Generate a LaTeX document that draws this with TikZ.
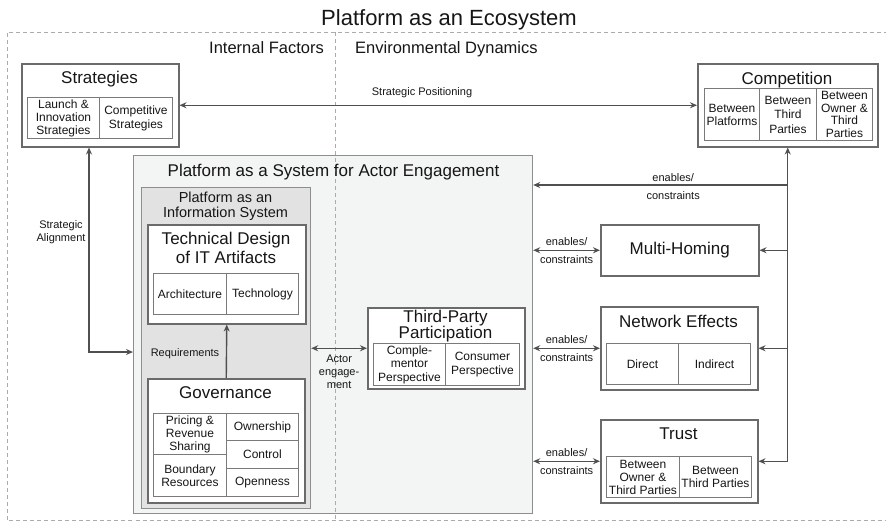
\documentclass[tikz,border=0pt]{standalone}
\usepackage{fontspec}
\setmainfont{Liberation Sans}
\usetikzlibrary{arrows.meta}
\definecolor{boxline}{HTML}{6A6A6A}
\definecolor{cellline}{HTML}{7A7A7A}
\definecolor{arrowc}{HTML}{505050}
\definecolor{framec}{HTML}{ABABAB}
\definecolor{sysfill}{HTML}{F3F4F4}
\definecolor{sysline}{HTML}{8E8E8E}
\definecolor{isfill}{HTML}{E2E2E2}
\definecolor{txt}{HTML}{161616}
\begin{document}
\begin{tikzpicture}[x=1pt,y=-1pt,
  every node/.style={text=txt},
  frame/.style={draw=framec, line width=0.8pt, dash pattern=on 4pt off 3pt},
  sysbox/.style={draw=sysline, fill=sysfill, line width=1.2pt, inner sep=0pt, anchor=north west},
  isbox/.style={draw=sysline, fill=isfill, line width=1.2pt, inner sep=0pt, anchor=north west},
  box/.style={draw=boxline, fill=white, line width=1.5pt, inner sep=0pt, anchor=north west},
  cell/.style={draw=cellline, line width=0.9pt, inner sep=0pt, anchor=north west, align=center, font=\fontsize{12}{13}\selectfont},
  ttl/.style={inner sep=0pt, align=center, font=\fontsize{17}{19}\selectfont},
  head/.style={inner sep=0pt, font=\fontsize{16.5}{18}\selectfont},
  lbl/.style={inner sep=1.5pt, align=center, font=\fontsize{11}{13}\selectfont},
  conn/.style={draw=arrowc, line width=1.4pt, >={Stealth[length=7pt,width=6pt]}}]
\useasboundingbox (0,0) rectangle (886,523);

% ecosystem frame
\draw[frame] (895,32) -- (7,32) -- (7,520.5) -- (895,520.5);
\node[inner sep=0pt, anchor=base, font=\fontsize{22}{24}\selectfont] (title) at (449,25) {Platform as an Ecosystem};
\node[head, anchor=base east] (intf) at (324,53) {Internal Factors};
\node[head, anchor=base west] (envd) at (355,53) {Environmental Dynamics};

% platform as a system for actor engagement
\node[sysbox, minimum width=399pt, minimum height=358pt] (sys) at (133,155) {};
\draw[frame] (335,32) -- (335,520.5);
\node[ttl, anchor=base] (sys-t) at (333.5,176) {Platform as a System for Actor Engagement};

% platform as an information system
\node[isbox, minimum width=169pt, minimum height=321pt] (is) at (141,187) {};
\node[inner sep=0pt, align=center, font=\fontsize{14.5}{15}\selectfont] (is-t) at (225.5,206) {Platform as an\\Information System};

% technical design
\node[box, minimum width=158pt, minimum height=99pt] (tech) at (147,224) {};
\node[ttl] (tech-t) at (226,248) {Technical Design\\of IT Artifacts};
\node[cell, minimum width=73pt, minimum height=41pt] (tech-a) at (153,273) {Architecture};
\node[cell, minimum width=72pt, minimum height=41pt] (tech-b) at (226,273) {Technology};

% governance
\node[box, minimum width=157pt, minimum height=124pt] (gov) at (147,378) {};
\node[ttl, anchor=base] (gov-t) at (225.5,398) {Governance};
\node[cell, minimum width=73pt, minimum height=41pt] (gov-a) at (153,413) {Pricing \&\\Revenue\\Sharing};
\node[cell, minimum width=73pt, minimum height=42pt] (gov-b) at (153,454) {Boundary\\Resources};
\node[cell, minimum width=72pt, minimum height=27pt] (gov-c) at (226,413) {Ownership};
\node[cell, minimum width=72pt, minimum height=28pt] (gov-d) at (226,440) {Control};
\node[cell, minimum width=72pt, minimum height=28pt] (gov-e) at (226,468) {Openness};

% third-party participation
\node[box, minimum width=157pt, minimum height=81pt] (tpp) at (367,307) {};
\node[ttl, font=\fontsize{17}{16.5}\selectfont] (tpp-t) at (445.5,326) {Third-Party\\Participation};
\node[cell, minimum width=72pt, minimum height=42pt, font=\fontsize{12}{13.5}\selectfont] (tpp-a) at (373,343) {Comple-\\mentor\\Perspective};
\node[cell, minimum width=74pt, minimum height=42pt, font=\fontsize{12}{14}\selectfont] (tpp-b) at (445,343) {Consumer\\Perspective};

% strategies
\node[box, minimum width=157pt, minimum height=83pt] (strat) at (21,63) {};
\node[ttl, anchor=base] (strat-t) at (99.5,83) {Strategies};
\node[cell, minimum width=72pt, minimum height=41pt] (strat-a) at (27,97) {Launch \&\\Innovation\\Strategies};
\node[cell, minimum width=73pt, minimum height=41pt, font=\fontsize{12}{14}\selectfont] (strat-b) at (99,97) {Competitive\\Strategies};

% competition
\node[box, minimum width=180pt, minimum height=83pt] (comp) at (697,63) {};
\node[ttl, anchor=base] (comp-t) at (787,84) {Competition};
\node[cell, minimum width=55pt, minimum height=52pt] (comp-a) at (704,88) {Between\\Platforms};
\node[cell, minimum width=57pt, minimum height=52pt, font=\fontsize{12}{14.5}\selectfont] (comp-b) at (759,88) {Between\\Third\\Parties};
\node[cell, minimum width=56pt, minimum height=52pt, font=\fontsize{12}{12.6}\selectfont] (comp-c) at (816,88) {Between\\Owner \&\\Third\\Parties};

% multi-homing
\node[box, minimum width=158pt, minimum height=51pt, font=\fontsize{17}{19}\selectfont] (multi) at (600,224) {Multi-Homing};

% network effects
\node[box, minimum width=157pt, minimum height=83pt] (net) at (600,306) {};
\node[ttl, anchor=base] (net-t) at (678.5,327) {Network Effects};
\node[cell, minimum width=72pt, minimum height=41pt] (net-a) at (606,343) {Direct};
\node[cell, minimum width=72pt, minimum height=41pt] (net-b) at (678,343) {Indirect};

% trust
\node[box, minimum width=157pt, minimum height=83pt] (trust) at (600,419) {};
\node[ttl, anchor=base] (trust-t) at (678.5,439) {Trust};
\node[cell, minimum width=73pt, minimum height=41pt] (trust-a) at (606,456) {Between\\Owner \&\\Third Parties};
\node[cell, minimum width=72pt, minimum height=41pt] (trust-b) at (679,456) {Between\\Third Parties};

% connectors
\draw[conn,<->] (strat.east) -- (comp.west);
\node[lbl, anchor=base] (sp) at (422,95) {Strategic Positioning};

\coordinate (sa) at (89,352);
\draw[conn,<->] (strat.south -| sa) |- (sys.west |- sa);
\node[lbl, font=\fontsize{11}{13.5}\selectfont] (sal) at (61,232) {Strategic\\Alignment};

\draw[conn,->] (gov.north) -- (tech.south);
\node[lbl, anchor=base] (req) at (185,356) {Requirements};

\draw[conn,<->] (is.east |- tpp.west) -- node[lbl, below=4pt] (ae) {Actor\\engage-\\ment} (tpp.west);

\coordinate (ec) at (787,185);
\draw[conn,<->] (comp.south) |- (trust.east);
\draw[conn,->] (comp.south |- ec) -- node[lbl, above=1.5pt, pos=0.45] (ec-a) {enables/} node[lbl, below=4pt, pos=0.45] (ec-b) {constraints} (sys.east |- ec);
\draw[conn,->] (comp.south |- multi.east) -- (multi.east);
\draw[conn,->] (comp.south |- net.east) -- (net.east);

\draw[conn,<->] (sys.east |- multi.west) -- node[lbl, above=2pt] (mh-a) {enables/} node[lbl, below=3.5pt] (mh-b) {constraints} (multi.west);
\draw[conn,<->] (sys.east |- net.west) -- node[lbl, above=2pt] (ne-a) {enables/} node[lbl, below=3.5pt] (ne-b) {constraints} (net.west);
\draw[conn,<->] (sys.east |- trust.west) -- node[lbl, above=2pt] (tr-a) {enables/} node[lbl, below=3.5pt] (tr-b) {constraints} (trust.west);
\end{tikzpicture}
\end{document}
